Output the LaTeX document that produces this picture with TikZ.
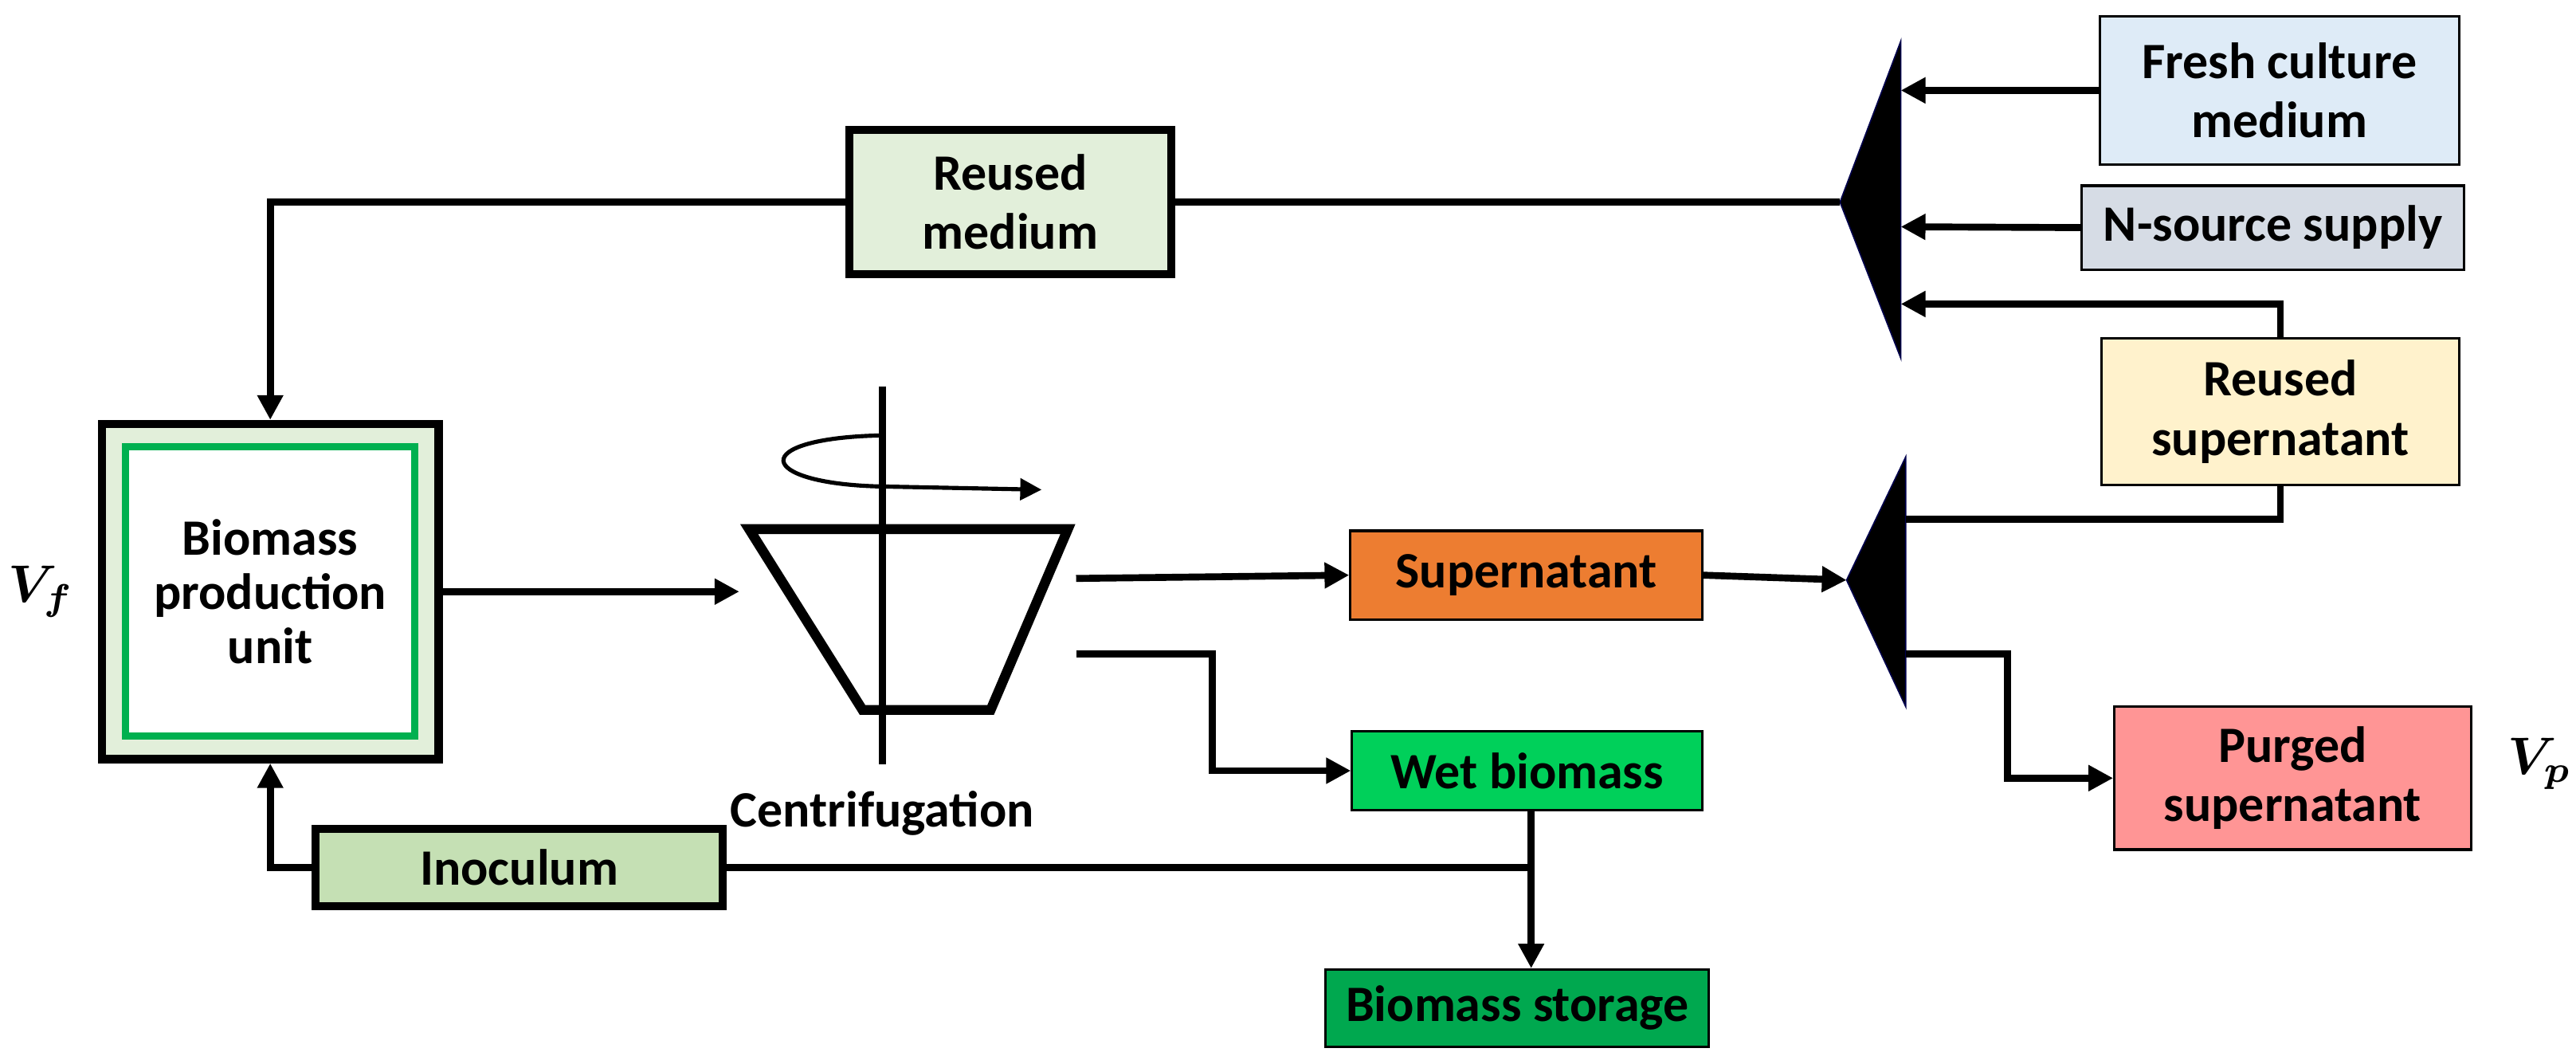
\documentclass[tikz,border=0pt]{standalone}
\usepackage{fontspec}
\setmainfont{Carlito}
\usetikzlibrary{arrows.meta}
\definecolor{rmed}{HTML}{E2EFDA}
\definecolor{inoc}{HTML}{C5E0B4}
\definecolor{fresh}{HTML}{DEEBF7}
\definecolor{nsrc}{HTML}{D6DCE5}
\definecolor{rsup}{HTML}{FFF2CC}
\definecolor{sup}{HTML}{ED7D31}
\definecolor{wet}{HTML}{00D05A}
\definecolor{stor}{HTML}{00A84F}
\definecolor{purg}{HTML}{FF9595}
\definecolor{grn}{HTML}{00B050}
\newcommand{\bigvar}[1]{\scalebox{3.2}{\mathversion{bold}$#1$}}
\begin{document}
\begin{tikzpicture}[x=1pt,y=-1pt,
  box/.style={draw=black,line width=#1,font=\fontsize{31}{36}\selectfont\bfseries,align=center,inner sep=0pt},
  box/.default=1.5pt,
  ln/.style={line width=4.2pt},
  ar/.style={ln,-{Triangle[length=15pt,width=15pt]}},
  tri/.style={fill=black,draw=black!70!blue,line width=0.8pt},
  var/.style={inner sep=0pt}]
\useasboundingbox (0,0) rectangle (1568,647);
% biomass production unit
\node[box=5pt,fill=rmed,minimum width=205pt,minimum height=204pt] (bpu) at (164.5,360) {};
\node[draw=grn,line width=4.5pt,fill=white,minimum width=176pt,minimum height=176pt,font=\fontsize{31}{33}\selectfont\bfseries,align=center] (inner) at (164.5,360) {Biomass\\production\\unit};
\node[var] (vf) at (25,360) {\bigvar{V_f}};
% boxes
\node[box=5pt,fill=rmed,minimum width=196pt,minimum height=88pt] (rm) at (615,123) {Reused\\medium};
\node[box=5pt,fill=inoc,minimum width=248pt,minimum height=47pt] (ino) at (316,528) {Inoculum};
\node[box,fill=fresh,minimum width=219pt,minimum height=90pt] (fr) at (1387.5,55) {Fresh culture\\medium};
\node[box,fill=nsrc,minimum width=233pt,minimum height=51pt] (ns) at (1383.5,138.5) {N-source supply};
\node[box,fill=rsup,minimum width=218pt,minimum height=89pt] (rs) at (1388,250.5) {Reused\\supernatant};
\node[box,fill=sup,minimum width=214pt,minimum height=54pt] (su) at (929,350) {Supernatant};
\node[box,fill=wet,minimum width=213pt,minimum height=48pt] (wb) at (929.5,469) {Wet biomass};
\node[box,fill=stor,minimum width=233pt,minimum height=47pt] (bs) at (923.5,613.5) {Biomass storage};
\node[box,fill=purg,minimum width=217pt,minimum height=87pt] (pu) at (1395.5,473.5) {Purged\\supernatant};
\node[var] (vp) at (1546,465) {\bigvar{V_p}};
% mixers
\draw[tri] (1120,123) -- (1157,25) -- (1157,218) -- cycle;
\draw[tri] (1124,353) -- (1160,278) -- (1160,430) -- cycle;
\coordinate (m1) at (1120,123);
\coordinate (m2) at (1124,353);
% centrifuge
\draw[line width=6pt,line join=miter] (456,322) -- (650,322) -- (603,432) -- (525,432) -- cycle;
\draw[line width=4.5pt] (537,235) -- (537,465);
\draw[line width=2.5pt,-{Triangle[length=13pt,width=13pt]}] (535,265) .. controls (455,267) and (460,294) .. (535,296) -- (634,298);
\node[font=\fontsize{31}{36}\selectfont\bfseries] (cf) at (537,495) {Centrifugation};
\coordinate (c1) at (655,352);
\coordinate (c2) at (655,398);
\coordinate (jx) at (932,0);
% connectors
\draw[ln] (m1) -- (rm.east);
\draw[ar] (rm.west) -| (bpu.north);
\draw[ar] (bpu.east) -- (450,360);
\draw[ar] (fr.west) -- (1157,55);
\draw[ar] (ns.west) -- (1157,138);
\draw[ar] (rs.north) |- (1157,185);
\draw[ln] (1160,316) -| (rs.south);
\draw[ar] (su.east) -- (m2);
\draw[ar] (c1) -- (su.west);
\draw[ar] (c2) -- (738,398) |- (wb.west);
\draw[ar] (1160,398) -- (1222,398) |- (pu.west);
\draw[ar] (wb.south -| jx) -- (bs.north -| jx);
\draw[ln] (ino.east) -- (932,528);
\draw[ar] (ino.west) -| (bpu.south);
\end{tikzpicture}
\end{document}
